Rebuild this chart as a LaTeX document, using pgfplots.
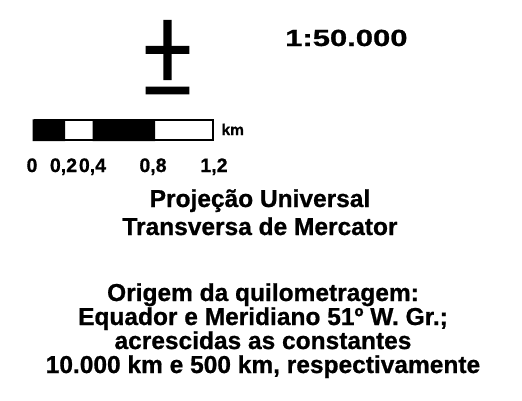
\documentclass[border=0pt]{standalone}
\usepackage{fontspec}
\setmainfont{Liberation Sans}
\newfontfamily\bfnt{Liberation Sans Bold}[FakeBold=0.8]
\usepackage{graphicx}
\usepackage{pgfplots}
\pgfplotsset{compat=1.18}
\begin{document}
\begin{tikzpicture}
\begin{axis}[
  scale only axis, width=522bp, height=401bp,
  xmin=0, xmax=522, ymin=0, ymax=401, y dir=reverse,
  hide axis, clip=false]
\path (axis cs:0,0) rectangle (axis cs:522,401);
% symbol
\addplot[fill=black, draw=none] coordinates {(163.3,20) (171.7,20) (171.7,80) (163.3,80) (163.3,20)};
\addplot[fill=black, draw=none] coordinates {(145.7,46) (189.3,46) (189.3,54) (145.7,54) (145.7,46)};
\addplot[fill=black, draw=none] coordinates {(145.7,86.7) (189.3,86.7) (189.3,94.3) (145.7,94.3) (145.7,86.7)};
% scale bar
\addplot[fill=black, draw=none] coordinates {(32.7,119.3) (65,119.3) (65,141) (32.7,141) (32.7,119.3)};
\addplot[fill=black, draw=none] coordinates {(92.7,119.3) (155,119.3) (155,141) (92.7,141) (92.7,119.3)};
\addplot[draw=black, line width=2bp, fill=none] coordinates {(33.7,120.3) (213.3,120.3) (213.3,140) (33.7,140) (33.7,120.3)};
\node[font=\bfnt\fontsize{15.5bp}{18bp}\selectfont, anchor=base west] at (axis cs:218,135) {km};
\node[font=\bfnt\fontsize{19.5bp}{22bp}\selectfont, anchor=base] at (axis cs:32,172) {0};
\node[font=\bfnt\fontsize{19.5bp}{22bp}\selectfont, anchor=base] at (axis cs:63.5,172) {0,2};
\node[font=\bfnt\fontsize{19.5bp}{22bp}\selectfont, anchor=base] at (axis cs:92.5,172) {0,4};
\node[font=\bfnt\fontsize{19.5bp}{22bp}\selectfont, anchor=base] at (axis cs:153,172) {0,8};
\node[font=\bfnt\fontsize{19.5bp}{22bp}\selectfont, anchor=base] at (axis cs:214,172) {1,2};
% scale
\node[font=\bfnt\fontsize{23.3bp}{26bp}\selectfont, anchor=base west, inner sep=0pt] at (axis cs:285,46) {\scalebox{1.33}[1]{1:50.000}};
% text
\node[font=\bfnt\fontsize{24.5bp}{28bp}\selectfont, anchor=base] at (axis cs:260,207) {Projeção Universal};
\node[font=\bfnt\fontsize{24.5bp}{28bp}\selectfont, anchor=base] at (axis cs:260,235) {Transversa de Mercator};
\node[font=\bfnt\fontsize{24.5bp}{28bp}\selectfont, anchor=base] at (axis cs:263,301) {Origem da quilometragem:};
\node[font=\bfnt\fontsize{24.5bp}{28bp}\selectfont, anchor=base] at (axis cs:263,325) {Equador e Meridiano 51º W. Gr.;};
\node[font=\bfnt\fontsize{24.5bp}{28bp}\selectfont, anchor=base] at (axis cs:263,349) {acrescidas as constantes};
\node[font=\bfnt\fontsize{24.5bp}{28bp}\selectfont, anchor=base] at (axis cs:263,373) {10.000 km e 500 km, respectivamente};
\end{axis}
\end{tikzpicture}
\end{document}
